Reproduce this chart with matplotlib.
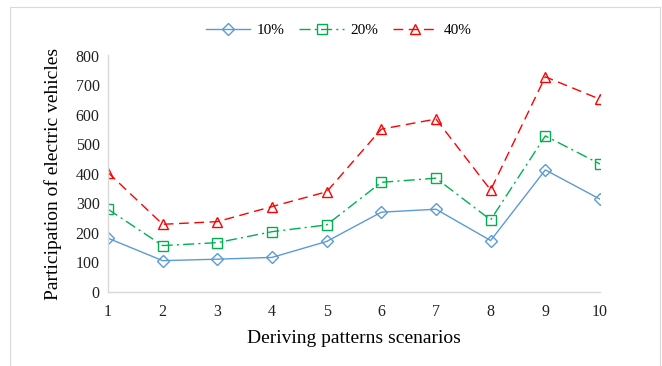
import matplotlib
matplotlib.use("Agg")
import matplotlib.pyplot as plt
from matplotlib.patches import Rectangle

scenarios = [1, 2, 3, 4, 5, 6, 7, 8, 9, 10]
ev_10 = [182, 106, 111, 117, 171, 270, 280, 174, 413, 314]
ev_20 = [280, 157, 167, 204, 227, 371, 385, 244, 528, 433]
ev_40 = [404, 229, 238, 289, 339, 551, 585, 345, 728, 652]
series_labels = ["10%", "20%", "40%"]
y_ticks = [0, 100, 200, 300, 400, 500, 600, 700, 800]

plt.rcParams["font.family"] = ["Liberation Serif", "DejaVu Serif"]

W, H = 662, 366
fig = plt.figure(figsize=(W / 100, H / 100), dpi=100)

# light frame around the chart area
fig.patches.append(Rectangle((10 / W, -0.05), 650 / W, 1 - 7 / H + 0.05,
                             transform=fig.transFigure, fill=False,
                             edgecolor="#d9d9d9", linewidth=0.8))

ax = fig.add_axes([108 / W, 1 - 292 / H, (600 - 108) / W, (292 - 55.5) / H])

ax.plot(scenarios, ev_10, color="#5b9bd5", linewidth=1.0, marker="D",
        markersize=6, markerfacecolor="none", markeredgecolor="#5b9bd5",
        markeredgewidth=1.0, label=series_labels[0])
ax.plot(scenarios, ev_20, color="#00b050", linewidth=1.0, linestyle=(0, (8, 3, 1.5, 3)),
        marker="s", markersize=6.5, markerfacecolor="none", markeredgecolor="#00b050",
        markeredgewidth=1.0, label=series_labels[1])
ax.plot(scenarios, ev_40, color="#ff0000", linewidth=1.0, linestyle=(0, (7, 4)),
        marker="^", markersize=7.5, markerfacecolor="none", markeredgecolor="#ff0000",
        markeredgewidth=1.0, label=series_labels[2])

ax.set_xlim(1, 10)
ax.set_ylim(0, 800)
ax.set_xticks(scenarios)
ax.set_yticks(y_ticks)
ax.tick_params(axis="both", length=0, labelsize=11.5, colors="#222222")
ax.tick_params(axis="x", pad=9)
ax.tick_params(axis="y", pad=6)

for side in ("top", "right"):
    ax.spines[side].set_visible(False)
for side in ("left", "bottom"):
    ax.spines[side].set_color("#d9d9d9")
    ax.spines[side].set_linewidth(1.0)

ax.set_xlabel("Deriving patterns scenarios", fontsize=14, labelpad=7)
ax.set_ylabel("Participation of electric vehicles", fontsize=14, labelpad=10)

fig.legend(loc="center", bbox_to_anchor=(339 / W, 1 - 30 / H), ncol=3,
           frameon=False, fontsize=11, handlelength=2.9, columnspacing=0.95,
           handletextpad=0.45)

fig.savefig("out.png", dpi=100)
